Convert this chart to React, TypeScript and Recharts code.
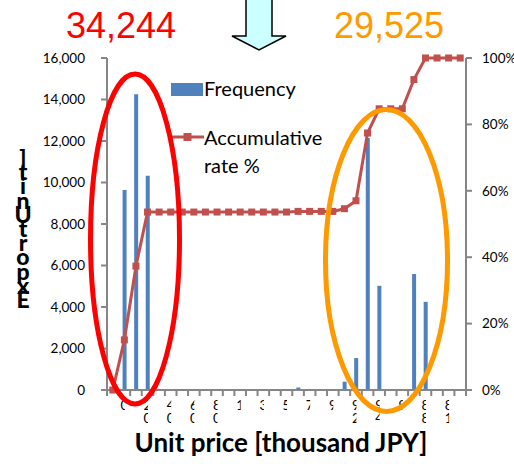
import React from 'react'
import { ComposedChart, Bar, Line, XAxis, YAxis, Legend } from 'recharts'

// price bins (index), tick text shown under every other bin (each char on its own line)
const binLabels = [
  '', '0', '', '20', '', '40', '', '60', '', '80', '',
  '1', '', '3', '', '5', '', '7', '', '9', '',
  '92', '', '94', '', '9', '', '88', '', '81', ''
]

const frequency = [
  0, 9640, 14250, 10330, 0, 0, 0, 0, 0, 0, 0, 0, 0, 0, 0, 0,
  120, 0, 0, 0, 400, 1540, 12150, 5020, 0, 0, 5590, 4250, 0, 0, 0
]

const accumRate = [
  0, 15.1, 37.3, 53.6, 53.6, 53.6, 53.6, 53.6, 53.6, 53.6, 53.6, 53.6, 53.6, 53.6, 53.6, 53.6,
  53.8, 53.8, 53.8, 53.8, 54.6, 57.0, 77.4, 84.7, 84.7, 84.7, 93.5, 100, 100, 100, 100
]

const leftTicks = [0, 2000, 4000, 6000, 8000, 10000, 12000, 14000, 16000]
const rightTicks = [0, 20, 40, 60, 80, 100]

const data = binLabels.map((label, i) => ({
  bin: i,
  label,
  freq: frequency[i],
  rate: accumRate[i]
}))

const W = 514
const H = 464
const PLOT_LEFT = 107
const PLOT_RIGHT = 466
const BAND = (PLOT_RIGHT - PLOT_LEFT) / binLabels.length

const FONT = 'Lato, "Open Sans", sans-serif'
const AXIS = '#868686'
const BLUE = '#4F81BD'
const RED_LINE = '#C0504D'

function PriceTick(props: any) {
  const { x, y, payload } = props
  const i = payload.value as number
  const chars = (binLabels[i] || '').split('')
  const edge = x - BAND / 2
  return (
    <g>
      <line x1={edge} x2={edge} y1={y} y2={y + 6} stroke={AXIS} strokeWidth={2} />
      {i === binLabels.length - 1 && (
        <line x1={x + BAND / 2} x2={x + BAND / 2} y1={y} y2={y + 6} stroke={AXIS} strokeWidth={2} />
      )}
      {chars.length > 0 && (
        <>
          <clipPath id={`bin-clip-${i}`}>
            <rect x={x - 10} y={y} width={10.5} height={40} />
          </clipPath>
          <text
            clipPath={`url(#bin-clip-${i})`}
            textAnchor='middle'
            fontSize={13.5}
            fontFamily={FONT}
            fill='#000'
          >
            {chars.map((ch, k) => (
              <tspan key={k} x={x} y={y + 20 + k * 13}>
                {ch}
              </tspan>
            ))}
          </text>
        </>
      )}
    </g>
  )
}

function SquareDot(props: any) {
  const { cx, cy, index } = props
  return <rect key={`dot-${index}`} x={cx - 3.5} y={cy - 3.5} width={7} height={7} fill={RED_LINE} />
}

function LegendBox() {
  return (
    <div style={{ position: 'relative', width: 170, height: 110, fontFamily: FONT, fontSize: 20, color: '#000' }}>
      <div style={{ position: 'absolute', left: 0, top: 7, width: 32, height: 13, background: BLUE }} />
      <div style={{ position: 'absolute', left: 33, top: 0, lineHeight: '24px' }}>Frequency</div>
      <svg style={{ position: 'absolute', left: 0, top: 55 }} width={33} height={12}>
        <line x1={0} x2={33} y1={6} y2={6} stroke={RED_LINE} strokeWidth={3} />
        <rect x={12.5} y={2} width={8} height={8} fill={RED_LINE} />
      </svg>
      <div style={{ position: 'absolute', left: 33, top: 47, lineHeight: '28px' }}>
        Accumulative
        <br />
        rate %
      </div>
    </div>
  )
}

// vertical title, glyphs stacked upright from the bottom
const yTitle = 'ExportUnit]'

export default function App() {
  return (
    <div style={{ position: 'absolute', left: 0, top: 0, width: W, height: H, background: '#fff' }}>
      <ComposedChart
        width={W}
        height={H}
        data={data}
        margin={{ top: 58, right: 0, bottom: 0, left: 0 }}
        barCategoryGap={0}
      >
        <XAxis
          dataKey='bin'
          type='category'
          height={74}
          interval={0}
          tickLine={false}
          tickSize={0}
          tickMargin={0}
          axisLine={{ stroke: AXIS, strokeWidth: 2 }}
          tick={<PriceTick />}
        />
        <YAxis
          yAxisId='left'
          width={107}
          domain={[0, 16000]}
          ticks={leftTicks}
          interval={0}
          tickFormatter={(v: number) => v.toLocaleString('en-US')}
          tickSize={6}
          tickMargin={16}
          axisLine={{ stroke: AXIS, strokeWidth: 2 }}
          tickLine={{ stroke: AXIS, strokeWidth: 2 }}
          tick={{ fill: '#000', fontSize: 13.5, fontFamily: FONT }}
        />
        <YAxis
          yAxisId='right'
          orientation='right'
          width={48}
          domain={[0, 100]}
          ticks={rightTicks}
          interval={0}
          tickFormatter={(v: number) => `${v}%`}
          tickSize={6}
          tickMargin={10}
          axisLine={{ stroke: AXIS, strokeWidth: 2 }}
          tickLine={{ stroke: AXIS, strokeWidth: 2 }}
          tick={{ fill: '#000', fontSize: 13.5, fontFamily: FONT }}
        />
        <Legend
          content={<LegendBox />}
          verticalAlign='middle'
          align='center'
          wrapperStyle={{ position: 'absolute', left: 171, top: 76, width: 170, height: 110 }}
        />
        <Bar yAxisId='left' dataKey='freq' fill={BLUE} barSize={4} isAnimationActive={false} />
        <Line
          yAxisId='right'
          dataKey='rate'
          type='linear'
          stroke={RED_LINE}
          strokeWidth={3}
          dot={<SquareDot />}
          activeDot={false}
          isAnimationActive={false}
        />
      </ComposedChart>

      <svg
        width={W}
        height={H}
        style={{ position: 'absolute', left: 0, top: 0, pointerEvents: 'none' }}
      >
        <polygon
          points='246,-2 272,-2 272,36 286,36 259,50 232,36 246,36'
          fill='#CCFFFF'
          stroke='#000'
          strokeWidth={1.5}
          strokeLinejoin='miter'
        />
        <text x={121} y={38} textAnchor='middle' fontSize={36} fontFamily='"Liberation Sans", Arial, sans-serif' fill='#FF0000'>
          34,244
        </text>
        <text x={389} y={38} textAnchor='middle' fontSize={36} fontFamily='"Liberation Sans", Arial, sans-serif' fill='#FF9900'>
          29,525
        </text>
        <ellipse cx={135} cy={239} rx={44.5} ry={165} fill='none' stroke='#FF0000' strokeWidth={5} />
        <ellipse cx={386.5} cy={260.5} rx={61} ry={151} fill='none' stroke='#FF9900' strokeWidth={5} />
        <text textAnchor='middle' fontSize={23} fontWeight={900} fontFamily={FONT} fill='#000'>
          {yTitle.split('').map((ch, k) => (
            <tspan key={k} x={23} y={308 - k * 14.2}>
              {ch}
            </tspan>
          ))}
        </text>
        <text x={281} y={452} textAnchor='middle' fontSize={26} fontWeight={700} fontFamily={FONT} fill='#000'>
          Unit price [thousand JPY]
        </text>
      </svg>
    </div>
  )
}
